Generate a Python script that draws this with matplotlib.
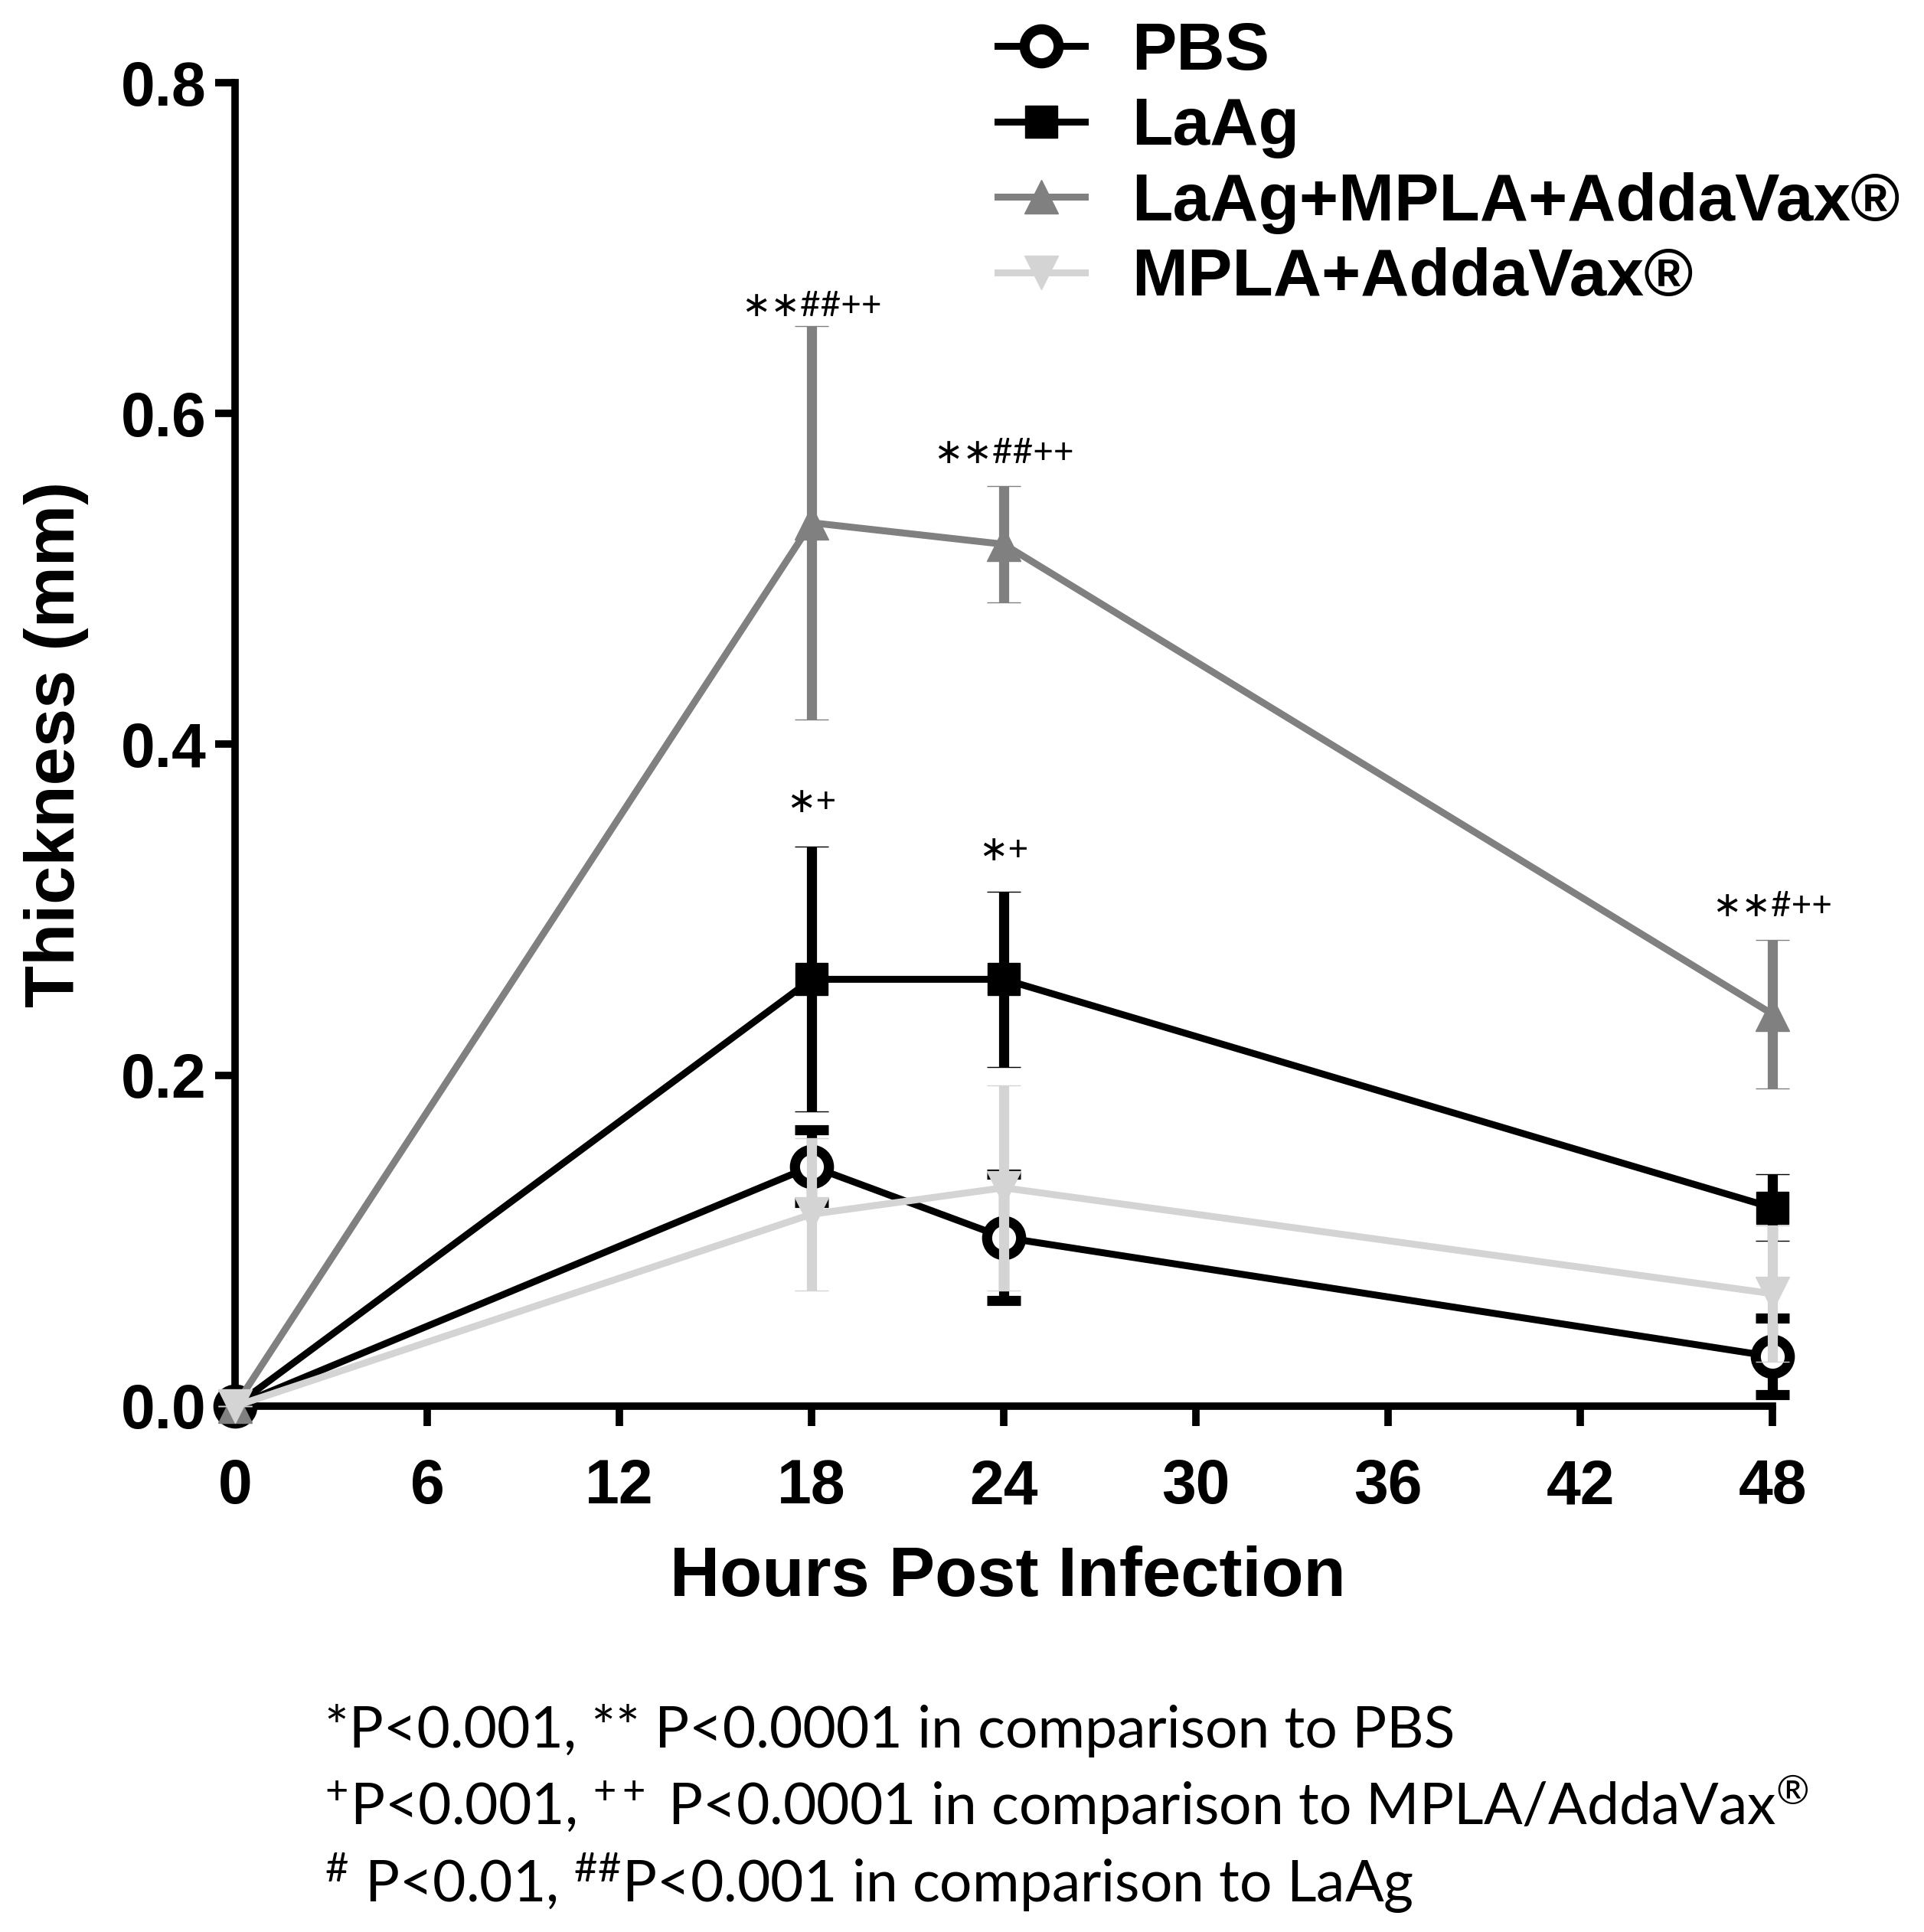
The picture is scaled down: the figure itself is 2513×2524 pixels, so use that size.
import matplotlib
matplotlib.use("Agg")
import matplotlib.pyplot as plt

# data (mean +/- error, mm)
hours = [0, 18, 24, 48]
pbs_mean = [0, 0.145, 0.102, 0.030]
pbs_err = [0, 0.022, 0.038, 0.023]
laag_mean = [0, 0.258, 0.258, 0.120]
laag_err = [0, 0.080, 0.053, 0.020]
combo_mean = [0, 0.534, 0.521, 0.237]
combo_err = [0, 0.119, 0.035, 0.045]
adj_mean = [0, 0.116, 0.132, 0.068]
adj_err = [0, 0.046, 0.062, 0.041]

series_labels = ["PBS", "LaAg", "LaAg+MPLA+AddaVax®", "MPLA+AddaVax®"]

x_ticks = [0, 6, 12, 18, 24, 30, 36, 42, 48]
y_ticks = [0, 0.2, 0.4, 0.6, 0.8]
y_tick_labels = ["0.0", "0.2", "0.4", "0.6", "0.8"]

# significance marks: (hour, height, text)
sig_hours = [18, 24, 48, 18, 24]
sig_heights = [0.659, 0.570, 0.296, 0.359, 0.330]
sig_texts = ["\u2217\u2217##++", "\u2217\u2217##++", "\u2217\u2217#++", "\u2217+", "\u2217+"]

footnotes = [
    "*P<0.001, ** P<0.0001 in comparison to PBS",
    r"$^{+}$P<0.001, $^{++}$ P<0.0001 in comparison to MPLA/AddaVax$^{®}$",
    r"$^{\#}$ P<0.01, $^{\#\#}$P<0.001 in comparison to LaAg",
]

plt.rcParams["font.family"] = ["Liberation Sans", "DejaVu Sans"]
plt.rcParams["mathtext.fontset"] = "custom"
plt.rcParams["mathtext.rm"] = "Lato"
plt.rcParams["mathtext.it"] = "Lato:italic"
plt.rcParams["mathtext.bf"] = "Lato:bold"

fig = plt.figure(figsize=(25.13, 25.24), dpi=100)
ax = fig.add_axes([0.12217, 0.27219, 0.79904, 0.68502])

styles = [
    dict(color="black", marker="o", mfc="white", ms=32, mew=9.5),
    dict(color="black", marker="s", mfc="black", ms=30, mew=1),
    dict(color="#808080", marker="^", mfc="#808080", ms=32, mew=1),
    dict(color="#d4d4d4", marker="v", mfc="#d4d4d4", ms=32, mew=1),
]
means = [pbs_mean, laag_mean, combo_mean, adj_mean]
errs = [pbs_err, laag_err, combo_err, adj_err]

handles = []
for i, (m, e, st) in enumerate(zip(means, errs, styles)):
    c = ax.errorbar(hours, m, yerr=e, color=st["color"], marker=st["marker"],
                    mfc=st["mfc"], mec=st["color"], ms=st["ms"], mew=st["mew"],
                    lw=6.5, elinewidth=9.5, capsize=15.5, capthick=11,
                    zorder=3 + i, clip_on=False, label=series_labels[i])
    for art in c.lines[1]:
        art.set_clip_on(False)
    for art in c.lines[2]:
        art.set_clip_on(False)
    handles.append(c.lines[0])

ax.set_xlim(0, 48)
ax.set_ylim(0, 0.8)
ax.set_xticks(x_ticks)
ax.set_xticklabels([str(t) for t in x_ticks], fontweight="bold")
ax.set_yticks(y_ticks)
ax.set_yticklabels(y_tick_labels, fontweight="bold")
ax.tick_params(axis="both", direction="out", length=19, width=7, labelsize=58)
ax.tick_params(axis="x", pad=30)
ax.tick_params(axis="y", pad=8)

for side in ["top", "right"]:
    ax.spines[side].set_visible(False)
for side in ["left", "bottom"]:
    ax.spines[side].set_linewidth(7)

ax.set_xlabel("Hours Post Infection", fontsize=65, fontweight="bold", va="center")
ax.xaxis.set_label_coords(0.5025, -0.130)
ax.set_ylabel("Thickness (mm)", fontsize=65, fontweight="bold", va="center")
ax.yaxis.set_label_coords(-0.1165, 0.5)

for hx, hy, t in zip(sig_hours, sig_heights, sig_texts):
    ax.text(hx, hy, t, fontsize=33, family=["Lato", "DejaVu Sans"],
            ha="center", va="baseline")

ax.legend(handles=handles, labels=series_labels, loc="upper left",
          bbox_to_anchor=(0.5185, 0.989), bbox_transform=fig.transFigure,
          frameon=False, borderpad=0, borderaxespad=0, handlelength=1.3,
          handletextpad=0.7, labelspacing=0.2,
          prop=dict(size=63, weight="bold"))

foot_y = [2283, 2385, 2485]
for txt, yy in zip(footnotes, foot_y):
    fig.text(424 / 2513, 1 - yy / 2524, txt, fontsize=54, family="Lato",
             ha="left", va="baseline")

fig.savefig("out.png", dpi=100)
